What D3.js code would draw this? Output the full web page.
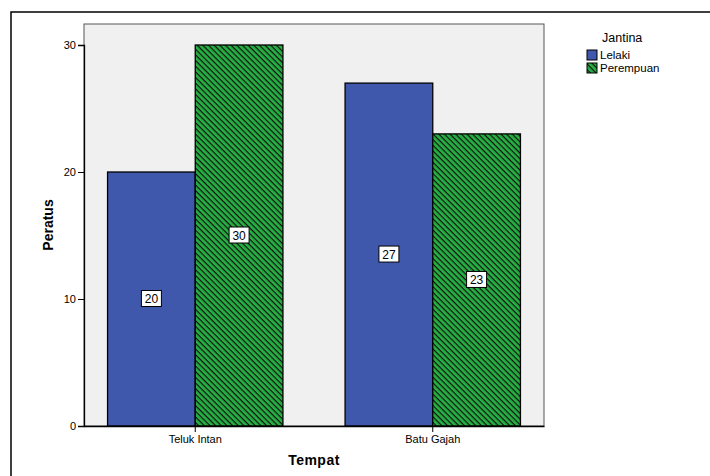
<!DOCTYPE html>
<html>
<head>
<meta charset="utf-8">
<script src="https://cdn.jsdelivr.net/npm/d3@7"></script>
<style>
  body { margin: 0; background: #fff; }
  text { font-family: "Liberation Sans", Arial, sans-serif; }
</style>
</head>
<body>
<div id="chart"></div>
<script>
// data
var places = ["Teluk Intan", "Batu Gajah"];
var genders = ["Lelaki", "Perempuan"];
var lelaki = [20, 27];
var perempuan = [30, 23];
var yTicks = [0, 10, 20, 30];

var W = 710, H = 476;
var plot = { left: 84, top: 24, right: 544, bottom: 426 };

var svg = d3.select("#chart").append("svg")
    .attr("width", W)
    .attr("height", H);

// hatch pattern for Perempuan
var defs = svg.append("defs");
var pat = defs.append("pattern")
    .attr("id", "hatch")
    .attr("patternUnits", "userSpaceOnUse")
    .attr("width", 4).attr("height", 4)
    .attr("patternTransform", "rotate(45)");
pat.append("rect").attr("width", 4).attr("height", 4).attr("fill", "#27b043");
pat.append("line").attr("x1", 0).attr("y1", 0).attr("x2", 4).attr("y2", 0)
    .attr("stroke", "#111").attr("stroke-width", 2.4);

var fills = ["#3f58ab", "url(#hatch)"];

// outer frame
svg.append("path")
    .attr("d", "M11," + H + "V12H" + W)
    .attr("fill", "none").attr("stroke", "#000").attr("stroke-width", 1.5);

// plot background
svg.append("rect")
    .attr("x", plot.left).attr("y", plot.top)
    .attr("width", plot.right - plot.left).attr("height", plot.bottom - plot.top)
    .attr("fill", "#f0f0f0").attr("stroke", "#555").attr("stroke-width", 1);

var y = d3.scaleLinear().domain([0, 30]).range([plot.bottom, 45]);

var x0 = d3.scaleBand()
    .domain(places)
    .range([plot.left, plot.right])
    .paddingInner(0.2616)
    .paddingOuter(0.0992);

var x1 = d3.scaleBand()
    .domain(genders)
    .range([0, x0.bandwidth()]);

var rows = places.map(function(p, i) {
    return [
        { place: p, gender: "Lelaki", value: lelaki[i] },
        { place: p, gender: "Perempuan", value: perempuan[i] }
    ];
});

var groups = svg.selectAll(".grp")
    .data(rows)
    .enter().append("g")
        .attr("transform", function(d) { return "translate(" + x0(d[0].place) + ",0)"; });

groups.selectAll("rect")
    .data(function(d) { return d; })
    .enter().append("rect")
        .attr("x", function(d) { return x1(d.gender); })
        .attr("y", function(d) { return y(d.value); })
        .attr("width", x1.bandwidth())
        .attr("height", function(d) { return y(0) - y(d.value); })
        .attr("fill", function(d) { return fills[genders.indexOf(d.gender)]; })
        .attr("stroke", "#000").attr("stroke-width", 1.3);

// value labels in boxes
var lab = groups.selectAll(".lab")
    .data(function(d) { return d; })
    .enter().append("g")
        .attr("transform", function(d) {
            return "translate(" + (x1(d.gender) + x1.bandwidth() / 2) + "," + y(d.value / 2) + ")";
        });
lab.append("rect")
    .attr("x", -10).attr("y", -8.5).attr("width", 20).attr("height", 16)
    .attr("fill", "#fff").attr("stroke", "#000").attr("stroke-width", 1);
lab.append("text")
    .attr("text-anchor", "middle").attr("dy", "0.36em")
    .attr("font-size", 12)
    .text(function(d) { return d.value; });

// y axis
var yAxis = svg.append("g")
    .attr("transform", "translate(" + plot.left + ",0)")
    .call(d3.axisLeft(y).tickValues(yTicks).tickSize(6).tickPadding(2));
yAxis.select(".domain").attr("stroke", "#000").attr("stroke-width", 1.3);
yAxis.selectAll("text").attr("font-size", 11).attr("fill", "#000");

// x axis
var xAxis = svg.append("g")
    .attr("transform", "translate(0," + plot.bottom + ")")
    .call(d3.axisBottom(x0).tickSizeInner(6).tickSizeOuter(0).tickPadding(3));
xAxis.select(".domain").attr("stroke", "#000").attr("stroke-width", 1.3);
xAxis.selectAll("text").attr("font-size", 11).attr("fill", "#000");

// axis titles
svg.append("text")
    .attr("transform", "translate(53,225) rotate(-90)")
    .attr("text-anchor", "middle")
    .attr("font-size", 14).attr("font-weight", "bold")
    .text("Peratus");
svg.append("text")
    .attr("x", 314).attr("y", 465)
    .attr("text-anchor", "middle")
    .attr("font-size", 14).attr("font-weight", "bold")
    .attr("letter-spacing", 0.5)
    .text("Tempat");

// legend
var legend = svg.append("g").attr("transform", "translate(587,0)");
legend.append("text")
    .attr("x", 15).attr("y", 42)
    .attr("font-size", 12.5)
    .text("Jantina");
var items = legend.selectAll(".item")
    .data(genders)
    .enter().append("g")
        .attr("transform", function(d, i) { return "translate(0," + (50 + i * 13) + ")"; });
items.append("rect")
    .attr("width", 10).attr("height", 10)
    .attr("fill", function(d, i) { return fills[i]; })
    .attr("stroke", "#000").attr("stroke-width", 1);
items.append("text")
    .attr("x", 13).attr("y", 9)
    .attr("font-size", 11.5)
    .text(function(d) { return d; });
</script>
</body>
</html>
